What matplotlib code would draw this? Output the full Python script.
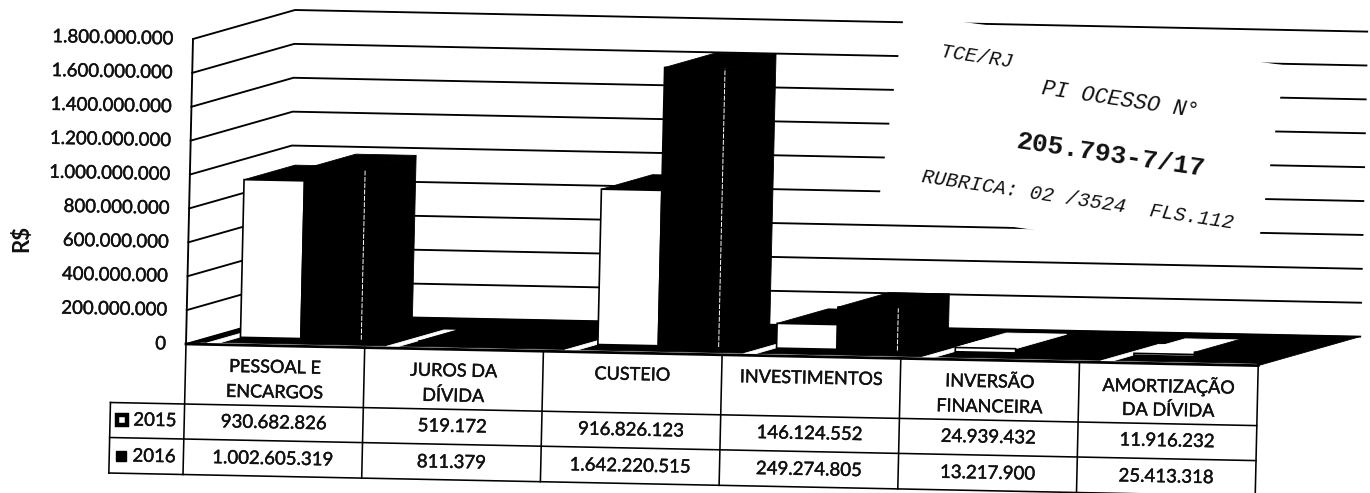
#!/usr/bin/env python
# despesas 2015/2016 - 3d looking column chart with data table, scanned and stamped

import matplotlib
matplotlib.use('Agg')
import matplotlib.pyplot as plt
import matplotlib.patheffects as pe
from matplotlib.transforms import Affine2D

categories=[['PESSOAL E','ENCARGOS'],['JUROS DA','DÍVIDA'],['CUSTEIO'],['INVESTIMENTOS'],['INVERSÃO','FINANCEIRA'],['AMORTIZAÇÃO','DA DÍVIDA']]
series_names=['2015','2016']
values_2015=[930682826,519172,916826123,146124552,24939432,11916232]
values_2016=[1002605319,811379,1642220515,249274805,13217900,25413318]
labels_2015=['930.682.826','519.172','916.826.123','146.124.552','24.939.432','11.916.232']
labels_2016=['1.002.605.319','811.379','1.642.220.515','249.274.805','13.217.900','25.413.318']
y_ticks=[0,200000000,400000000,600000000,800000000,1000000000,1200000000,1400000000,1600000000,1800000000]
y_labels=['0','200.000.000','400.000.000','600.000.000','800.000.000','1.000.000.000','1.200.000.000','1.400.000.000','1.600.000.000','1.800.000.000']

plt.rcParams['font.family']=['Lato','DejaVu Sans']
ANG=-1.15  # the scan is slightly rotated
FS=13.4
# printed text looks fatter after scanning
fat=[pe.withStroke(linewidth=0.3,foreground='#111')]

fig=plt.figure(figsize=(13.7,4.93),dpi=100)
ax=fig.add_axes([0,0,1,1])
ax.set_autoscale_on(False)
ax.set_xlim(0,1370)
ax.set_ylim(493,0)
ax.axis('off')

# (category,value) -> pixel, sheared so the plot leans like in the scan
scale=Affine2D.from_values(178.7,3.6,7/1.8e9,-305/1.8e9,186,344)
back_dx,back_dy=102,-29

def p(c,v,d=0):
    x,y=scale.transform((c,v))
    return x+back_dx*d,y+back_dy*d

def poly(pts,color='k',z=2):
    ax.fill([q[0] for q in pts],[q[1] for q in pts],color=color,lw=0.6,zorder=z)

def cell(c,off):
    x,y=scale.transform((c,0))
    return x-off*0.023,y+off

# walls
for v in y_ticks:
    a,b,c=p(0,v,0),p(0,v,1),p(6,v,1)
    ax.plot([a[0],b[0],c[0]],[a[1],b[1],c[1]],color='k',lw=1.35,zorder=1)
a,b=p(0,0),p(0,y_ticks[-1])
ax.plot([a[0],b[0]],[a[1],b[1]],color='k',lw=1.35,zorder=1)
for v,lab in zip(y_ticks,y_labels):
    x,y=p(0,v)
    ax.text(x-20,y,lab,ha='right',va='center',rotation=ANG,rotation_mode='anchor',fontsize=FS,color='#111',zorder=5,path_effects=fat)
ax.text(22,238,'R$',rotation=90,ha='center',va='center',fontsize=16,fontweight='bold',color='#111')

# floor is black, with white streaks in front of every group
poly([p(0,0,0),p(0,0,1),p(6,0,1),p(6,0,0),p(5.95,0,.07),p(.05,0,.07)],z=1.5)
for i in range(len(categories)):
    poly([p(i+.09,0,.05),p(i+.09,0,.62),p(i+.155,0,.62),p(i+.155,0,.05)],color='white',z=1.6)
a,b=p(0,0),p(6,0)
ax.plot([a[0],b[0]],[a[1],b[1]],color='k',lw=2,zorder=3)

# bars
gap=0.162
bw=0.338
d0,d1=0.25,0.75
shift=Affine2D().translate(back_dx*d0,back_dy*d0)
front_bars=scale+shift+ax.transData
for i in range(len(categories)):
    for j,vals in enumerate([values_2015,values_2016]):
        left=i+gap+j*bw
        v=vals[i]
        col='white' if j==0 else 'k'
        # low 2015 columns of the last groups came out nearly white in the scan
        top='white' if j==0 and 1000000<v<50000000 else 'k'
        poly([p(left+bw,0,d0),p(left+bw,0,d1),p(left+bw,v,d1),p(left+bw,v,d0)],z=2+i*.1+j*.01)
        poly([p(left,v,d0),p(left+bw,v,d0),p(left+bw,v,d1),p(left,v,d1)],color=top,z=2.001+i*.1+j*.01)
        ax.bar(left+bw/2,v,bw,color=col,edgecolor='k',lw=1.2,transform=front_bars,zorder=2.005+i*.1+j*.01)
        if j==1 and v>100000000:
            a,b=p(left+bw,0,d0),p(left+bw,v,d0)
            ax.plot([a[0],b[0]],[a[1],b[1]],color='white',lw=0.7,ls=(0,(5,1.5)),zorder=2.009+i*.1+j*.01)

# data table
for off in [60,95,130.5]:
    a,b=cell(-0.415,off),cell(6,off)
    ax.plot([a[0],b[0]],[a[1],b[1]],color='k',lw=1.15,zorder=3)
for c in range(7):
    a,b=cell(c,0),cell(c,130.5)
    ax.plot([a[0],b[0]],[a[1],b[1]],color='k',lw=1.15,zorder=3)
a,b=cell(-0.415,60),cell(-0.415,130.5)
ax.plot([a[0],b[0]],[a[1],b[1]],color='k',lw=1.15,zorder=3)

for i,lines in enumerate(categories):
    for k,line in enumerate(lines):
        x,y=cell(i+.5,22+k*25)
        ax.text(x,y,line,ha='center',va='center',rotation=ANG,rotation_mode='anchor',fontsize=13,color='#111',zorder=5,path_effects=fat)
    for off,labs in [(77,labels_2015),(113,labels_2016)]:
        x,y=cell(i+.5,off)
        ax.text(x,y,labs[i],ha='center',va='center',rotation=ANG,rotation_mode='anchor',fontsize=FS,color='#111',zorder=5,path_effects=fat)

# legend keys inside the table
for off,name,face,edge in [(77,series_names[0],'white',3.2),(113,series_names[1],'k',1)]:
    x,y=cell(-0.35,off)
    ax.plot([x],[y],marker='s',ms=7,mfc=face,mec='k',mew=edge,zorder=5)
    x,y=cell(-0.285,off)
    ax.text(x,y,name,ha='left',va='center',rotation=ANG,rotation_mode='anchor',fontsize=FS,color='#111',zorder=5,path_effects=fat)

# stamp over the right part of the wall
ax.fill([904,1285,1256,878],[14,65.3,261,208],color='white',lw=0,zorder=6)
stamp=['TCE/RJ','PI OCESSO N°','205.793-7/17','RUBRICA: 02 /3524  FLS.112']
stamp_x=[977,1120,1111,1078]
stamp_y=[57,100,155,200]
stamp_size=[14.5,15.8,19,14.5]
for s,x,y,fs in zip(stamp,stamp_x,stamp_y,stamp_size):
    bold=s[0]=='2'
    ax.text(x,y,s,ha='center',va='center',rotation=-8.5,rotation_mode='anchor',family=['Liberation Mono','DejaVu Sans Mono'],
            fontsize=fs,fontweight='bold' if bold else 'normal',style='normal' if bold else 'italic',color='#111',zorder=7)

plt.savefig('out.png',dpi=100)
